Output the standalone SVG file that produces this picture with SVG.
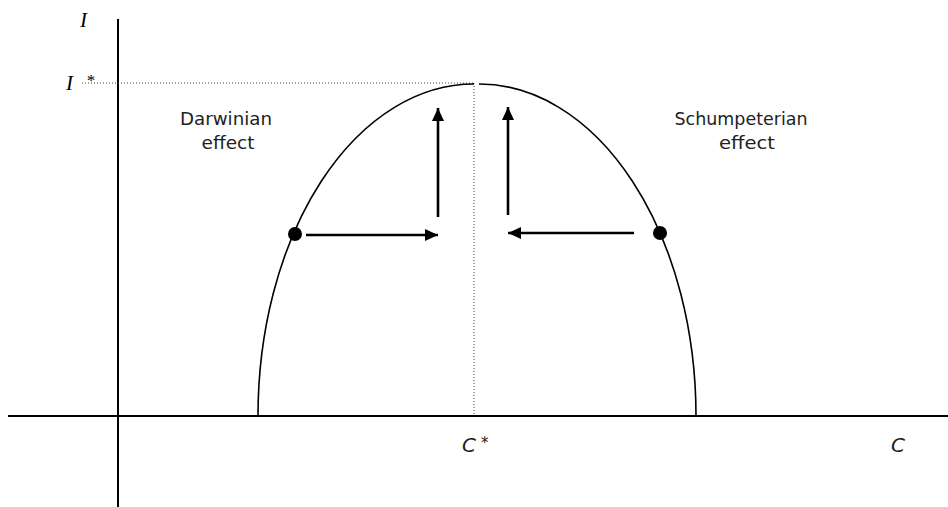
<svg xmlns="http://www.w3.org/2000/svg" width="948" height="507" viewBox="0 0 948 507">
<style>
.ax{stroke:#000;stroke-width:2;fill:none}
.dot{stroke:#444;stroke-width:1;stroke-dasharray:1 2;fill:none}
.curve{stroke:#000;stroke-width:1.6;fill:none}
.arr{stroke:#000;stroke-width:2.6;fill:none}
.lbl{font-family:"DejaVu Sans","Liberation Sans",sans-serif;font-size:17px;fill:#222;text-anchor:middle}
.var{font-family:"Liberation Serif",serif;font-style:italic;font-size:21px;fill:#000}
.svar{font-family:"DejaVu Sans","Liberation Sans",sans-serif;font-style:italic;font-size:20px;fill:#222}
</style>
<defs>
<marker id="ah" markerUnits="userSpaceOnUse" markerWidth="14" markerHeight="14" viewBox="0 0 14 14" refX="13" refY="7" orient="auto">
<path d="M0,1 L13,7 L0,13 Z" fill="#000"/>
</marker>
</defs>
<g id="axes">
<line class="ax" x1="8" y1="416" x2="948" y2="416"/>
<line class="ax" x1="118" y1="19" x2="118" y2="507"/>
</g>
<g id="guides">
<line class="dot" x1="82" y1="83" x2="474" y2="83"/>
<line class="dot" x1="474" y1="83" x2="474" y2="416"/>
</g>
<g id="curve">
<path class="curve" d="M258,416 A216,332 0 0 1 474,84"/>
<path class="curve" d="M479,84 A217,332 0 0 1 696,416"/>
</g>
<g id="points">
<circle cx="295" cy="234" r="7" fill="#000"/>
<circle cx="660" cy="233" r="7" fill="#000"/>
</g>
<g id="connectors">
<line class="arr" x1="306" y1="235" x2="438" y2="235" marker-end="url(#ah)"/>
<line class="arr" x1="438" y1="217" x2="438" y2="108" marker-end="url(#ah)"/>
<line class="arr" x1="634" y1="233" x2="508" y2="233" marker-end="url(#ah)"/>
<line class="arr" x1="508" y1="215" x2="508" y2="107" marker-end="url(#ah)"/>
</g>
<g id="labels">
<text class="var" x="80" y="27">I</text>
<text class="var" x="66" y="90">I</text>
<text class="var" x="86" y="86" style="font-size:17px">*</text>
<text class="lbl" x="226" y="125" textLength="92" lengthAdjust="spacingAndGlyphs">Darwinian</text>
<text class="lbl" x="228" y="149" textLength="53" lengthAdjust="spacingAndGlyphs">effect</text>
<text class="lbl" x="741" y="125" textLength="133" lengthAdjust="spacingAndGlyphs">Schumpeterian</text>
<text class="lbl" x="747" y="149" textLength="56" lengthAdjust="spacingAndGlyphs">effect</text>
<text class="svar" x="462" y="452">C</text>
<text class="svar" x="481" y="448" style="font-size:15px">*</text>
<text class="svar" x="891" y="452">C</text>
</g>
</svg>
